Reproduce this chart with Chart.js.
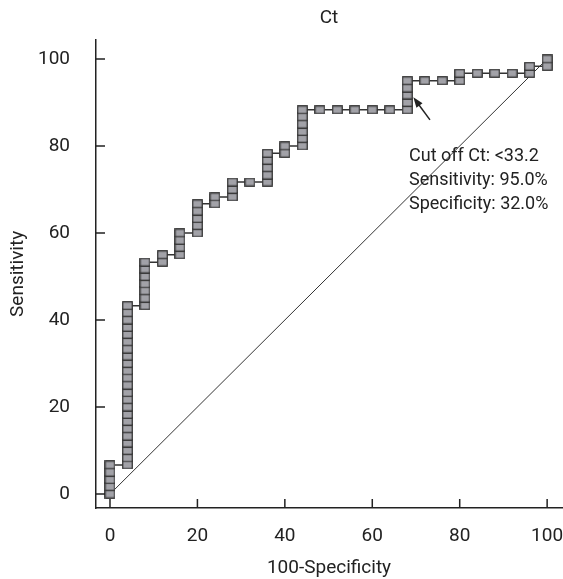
<!DOCTYPE html>
<html>
<head>
<meta charset="utf-8">
<script src="https://cdn.jsdelivr.net/npm/chart.js@4.4.1/dist/chart.umd.min.js"></script>
<style>
  html, body { margin: 0; padding: 0; background: #fff; }
  #wrap { width: 563px; height: 579px; }
</style>
</head>
<body>
<div id="wrap"><canvas id="rocChart"></canvas></div>
<script>
/* ── Data: ROC curve for Ct (100-specificity vs sensitivity, %) ── */
const fprSteps = [0, 4, 8, 12, 16, 20, 24, 28, 32, 36, 40, 44, 48, 52, 56, 60, 64, 68, 72, 76, 80, 84, 88, 92, 96, 100];
const sensColumns = [
  [0, 1.7, 3.3, 5.0, 6.7],
  [6.7, 8.3, 10.0, 11.7, 13.3, 15.0, 16.7, 18.3, 20.0, 21.7, 23.3, 25.0, 26.7, 28.3, 30.0, 31.7, 33.3, 35.0, 36.7, 38.3, 40.0, 41.7, 43.3],
  [43.3, 45.0, 46.7, 48.3, 50.0, 51.7, 53.3],
  [53.3, 55.0],
  [55.0, 56.7, 58.3, 60.0],
  [60.0, 61.7, 63.3, 65.0, 66.7],
  [66.7, 68.3],
  [68.3, 70.0, 71.7],
  [71.7],
  [71.7, 73.3, 75.0, 76.7, 78.3],
  [78.3, 80.0],
  [80.0, 81.7, 83.3, 85.0, 86.7, 88.3],
  [88.3],
  [88.3],
  [88.3],
  [88.3],
  [88.3],
  [88.3, 90.0, 91.7, 93.3, 95.0],
  [95.0],
  [95.0],
  [95.0, 96.7],
  [96.7],
  [96.7],
  [96.7],
  [96.7, 98.3],
  [98.3, 100],
];
const chanceX = [0, 100];
const chanceY = [0, 100];
const tickVals = [0, 20, 40, 60, 80, 100];

const cutoffText = ['Cut off Ct: <33.2', 'Sensitivity: 95.0%', 'Specificity: 32.0%'];
const cutoffTextAt = { x: 68.4, y: 77.5 };
const arrowFrom = { x: 73.2, y: 86.0 };
const arrowTo = { x: 69.4, y: 91.2 };

const FONT = "Roboto, 'Liberation Sans', sans-serif";
const INK = '#222';

/* build points from the columns */
const rocPoints = [];
fprSteps.forEach((fx, i) => sensColumns[i].forEach(s => rocPoints.push({ x: fx, y: s })));
const chancePoints = chanceX.map((v, i) => ({ x: v, y: chanceY[i] }));

/* grey square marker */
function makeMarker() {
  const c = document.createElement('canvas');
  c.width = 11; c.height = 9;
  const g = c.getContext('2d');
  g.fillStyle = '#a2a2a8';
  g.fillRect(0.5, 0.5, 10, 8);
  g.strokeStyle = '#2e2e2e';
  g.lineWidth = 1.2;
  g.strokeRect(0.75, 0.75, 9.5, 7.5);
  return c;
}

/* ticks drawn inward from the axis lines */
const inwardTicks = {
  id: 'inwardTicks',
  afterDatasetsDraw(chart) {
    const { ctx, scales: { x, y } } = chart;
    ctx.save();
    ctx.strokeStyle = INK;
    ctx.lineWidth = 1.5;
    ctx.beginPath();
    tickVals.forEach(v => {
      const px = x.getPixelForValue(v);
      ctx.moveTo(px, x.top);
      ctx.lineTo(px, x.top - 9);
      const py = y.getPixelForValue(v);
      ctx.moveTo(y.right, py);
      ctx.lineTo(y.right + 9, py);
    });
    ctx.stroke();
    ctx.restore();
  },
};

/* cut-off arrow + text */
const cutoffNote = {
  id: 'cutoffNote',
  afterDatasetsDraw(chart) {
    const { ctx, scales: { x, y } } = chart;
    const x1 = x.getPixelForValue(arrowFrom.x), y1 = y.getPixelForValue(arrowFrom.y);
    const x2 = x.getPixelForValue(arrowTo.x), y2 = y.getPixelForValue(arrowTo.y);
    const ang = Math.atan2(y2 - y1, x2 - x1);
    ctx.save();
    ctx.strokeStyle = INK;
    ctx.fillStyle = INK;
    ctx.lineWidth = 1.5;
    ctx.beginPath();
    ctx.moveTo(x1, y1);
    ctx.lineTo(x2 - 8 * Math.cos(ang), y2 - 8 * Math.sin(ang));
    ctx.stroke();
    ctx.beginPath();
    ctx.moveTo(x2, y2);
    ctx.lineTo(x2 - 11 * Math.cos(ang - 0.35), y2 - 11 * Math.sin(ang - 0.35));
    ctx.lineTo(x2 - 11 * Math.cos(ang + 0.35), y2 - 11 * Math.sin(ang + 0.35));
    ctx.closePath();
    ctx.fill();

    ctx.font = '18px ' + FONT;
    ctx.textAlign = 'left';
    ctx.textBaseline = 'middle';
    const tx = x.getPixelForValue(cutoffTextAt.x);
    const ty = y.getPixelForValue(cutoffTextAt.y);
    cutoffText.forEach((t, i) => ctx.fillText(t, tx, ty + i * 24));
    ctx.restore();
  },
};

Chart.defaults.font.family = FONT;
Chart.defaults.font.size = 19;
Chart.defaults.color = INK;

new Chart(document.getElementById('rocChart'), {
  type: 'line',
  data: {
    datasets: [
      {
        label: 'ROC',
        data: rocPoints,
        borderColor: '#333',
        borderWidth: 1.5,
        tension: 0,
        pointStyle: makeMarker(),
        pointRadius: 5,
        order: 1,
      },
      {
        label: 'Reference',
        data: chancePoints,
        borderColor: '#333',
        borderWidth: 1,
        pointRadius: 0,
        order: 2,
      },
    ],
  },
  options: {
    responsive: true,
    maintainAspectRatio: false,
    animation: false,
    layout: { autoPadding: false, padding: { right: 1 } },
    plugins: {
      legend: { display: false },
      tooltip: { enabled: false },
      title: {
        display: true,
        text: 'Ct',
        fullSize: false,
        color: INK,
        font: { size: 19, weight: 'normal' },
        padding: { top: 7, bottom: 10 },
      },
    },
    scales: {
      x: {
        type: 'linear',
        min: -3.2, max: 103.4,
        afterBuildTicks: s => { s.ticks = tickVals.map(v => ({ value: v })); },
        afterFit: s => { s.height = 71; s.paddingLeft = 0; s.paddingRight = 0; },
        grid: { display: false },
        border: { color: INK, width: 1.5 },
        ticks: { padding: 9, maxRotation: 0, color: INK },
        title: { display: true, text: '100-Specificity', color: INK, font: { size: 19, lineHeight: 1 }, padding: { top: 0, bottom: 1 } },
      },
      y: {
        type: 'linear',
        min: -3.2, max: 104.4,
        afterBuildTicks: s => { s.ticks = tickVals.map(v => ({ value: v })); },
        afterFit: s => { s.width = 96; s.paddingTop = 0; s.paddingBottom = 0; },
        grid: { display: false },
        border: { color: INK, width: 1.5 },
        ticks: { padding: 18, color: INK },
        title: { display: true, text: 'Sensitivity', color: INK, font: { size: 19, lineHeight: 1 }, padding: { top: 9, bottom: 0 } },
      },
    },
  },
  plugins: [inwardTicks, cutoffNote],
});
</script>
</body>
</html>
